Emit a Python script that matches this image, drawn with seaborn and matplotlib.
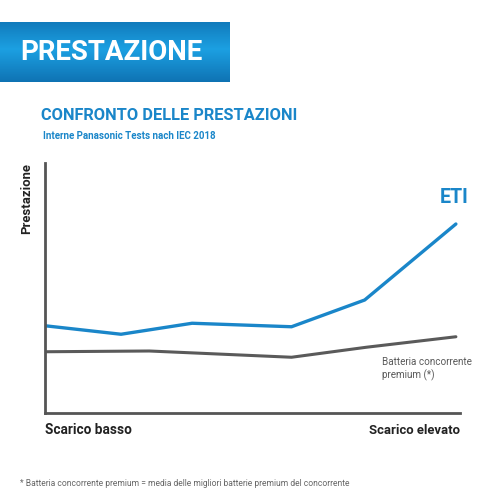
import matplotlib
matplotlib.use("Agg")
import matplotlib.pyplot as plt
import seaborn as sns
import numpy as np
import pandas as pd

# data (x: 0 = low drain, 100 = high drain; y: relative performance)
eti_x = [0, 18.5, 35.8, 60, 77.8, 100]
eti_y = [34.9, 31.5, 35.9, 34.5, 45.2, 75.6]
comp_x = [0, 25.4, 60, 78.2, 100]
comp_y = [24.5, 24.8, 22.3, 26.3, 30.5]

x_labels = ["Scarico basso", "Scarico elevato"]
banner_title = "PRESTAZIONE"
chart_title = "CONFRONTO DELLE PRESTAZIONI"
subtitle = "Interne Panasonic Tests nach IEC 2018"
footnote = "* Batteria concorrente premium = media delle migliori batterie premium del concorrente"

BLUE = "#1a86c9"
GREY = "#5a5a5a"

sns.set_theme(style="white")
plt.rcParams["font.family"] = ["Roboto", "DejaVu Sans"]

fig = plt.figure(figsize=(5, 5), dpi=100)
fig.patch.set_facecolor("white")
renderer = fig.canvas.get_renderer()


def fit(txt, width_px, horizontal=True):
    # shrink/grow font so the text spans roughly the width seen in the reference
    bb = txt.get_window_extent(renderer)
    cur = bb.width if horizontal else bb.height
    txt.set_fontsize(txt.get_fontsize() * width_px / cur)
    return txt


# banner with vertical gradient
bax = fig.add_axes([0, 1 - 82 / 500, 230 / 500, 60 / 500])
t = np.linspace(0, 1, 64)
shade = 1 - np.abs(t - 0.45) * 1.4
top = np.array([0x0b, 0x66, 0xa6]) / 255
mid = np.array([0x1c, 0xa0, 0xe2]) / 255
grad = top[None, :] + (mid - top)[None, :] * np.clip(shade, 0, 1)[:, None]
bax.imshow(np.repeat(grad[:, None, :], 4, axis=1), aspect="auto", extent=[0, 1, 0, 1])
bax.set_axis_off()
fit(fig.text(20 / 500, 1 - 52 / 500, banner_title, color="white", fontsize=20,
             fontweight="bold", va="center", ha="left"), 182)

fit(fig.text(41 / 500, 1 - 115 / 500, chart_title, color=BLUE, fontsize=16,
             fontweight="bold", va="center", ha="left"), 256)
fit(fig.text(43 / 500, 1 - 136 / 500, subtitle, color=BLUE, fontsize=8,
             fontweight="bold", va="center", ha="left"), 172)

ax = fig.add_axes([45 / 500, 87 / 500, 415 / 500, 250 / 500])
df_eti = pd.DataFrame({"x": eti_x, "y": eti_y})
df_comp = pd.DataFrame({"x": comp_x, "y": comp_y})
sns.lineplot(data=df_comp, x="x", y="y", color=GREY, lw=2.2, ax=ax)
sns.lineplot(data=df_eti, x="x", y="y", color=BLUE, lw=2.4, ax=ax)
ax.set_xlim(0, 101)
ax.set_ylim(0, 100)
ax.set_xticks([])
ax.set_yticks([])
ax.set_xlabel("")
ax.set_ylabel("")
for s in ["top", "right"]:
    ax.spines[s].set_visible(False)
for s in ["left", "bottom"]:
    ax.spines[s].set_color("#555555")
    ax.spines[s].set_linewidth(2)

fit(ax.text(eti_x[-1] - 0.5, eti_y[-1] + 7, "ETI", color=BLUE, fontsize=17,
            fontweight="bold", ha="center", va="bottom"), 29)
batt = ax.text(82, comp_y[-1] - 8, "Batteria concorrente\npremium (*)", color=GREY,
               fontsize=8, ha="left", va="top", linespacing=1.35)
fit(batt, 90)

fit(fig.text(45 / 500, 1 - 430 / 500, x_labels[0], fontsize=12, fontweight="bold",
             color="#222222", ha="left", va="center"), 86)
fit(fig.text(460 / 500, 1 - 430 / 500, x_labels[1], fontsize=12, fontweight="bold",
             color="#222222", ha="right", va="center"), 91)
fit(fig.text(27 / 500, 1 - 163 / 500, "Prestazione", fontsize=11, fontweight="bold",
             color="#222222", rotation=90, ha="center", va="top"), 71, horizontal=False)

fit(fig.text(20 / 500, 1 - 483 / 500, footnote, fontsize=6, color="#666666",
             ha="left", va="center"), 334)

fig.savefig("out.png", dpi=100, facecolor="white")
plt.close(fig)
